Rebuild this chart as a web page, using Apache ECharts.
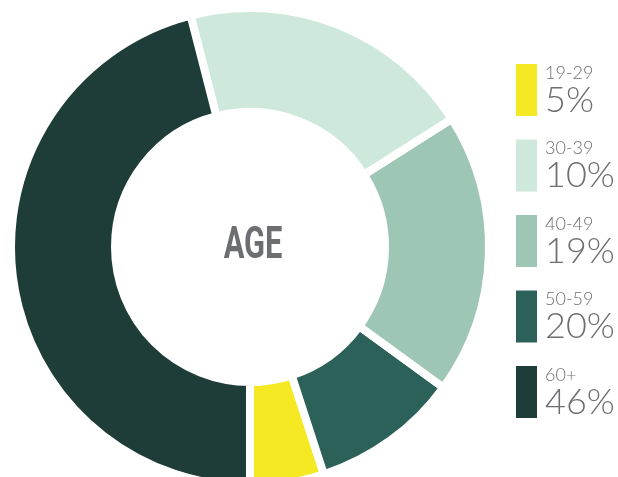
<!DOCTYPE html>
<html>
<head>
<meta charset="utf-8">
<script src="https://cdn.jsdelivr.net/npm/echarts@6/dist/echarts.min.js"></script>
<style>
html,body{margin:0;padding:0;background:#fff;}
#chart{width:618px;height:477px;}
</style>
</head>
<body>
<div id="chart"></div>
<script>
// Data
var categories = ['19-29', '30-39', '40-49', '50-59', '60+'];
// slice sizes as drawn in the donut (percent)
var sliceValues = [5, 20, 19, 10, 46];
// percentages printed in the legend
var legendPercents = ['5%', '10%', '19%', '20%', '46%'];
var colors = ['#f4e923', '#cfe8dc', '#9dc6b5', '#2b6158', '#1f3d38'];
// drawing order counter-clockwise from the bottom of the ring
var drawOrder = [0, 3, 2, 1, 4];
var centerTitle = 'AGE';

var TEXT_GRAY = '#6d6e71';
var chart = echarts.init(document.getElementById('chart'), null, {renderer: 'canvas'});

var pieData = drawOrder.map(function (i) {
  return {name: categories[i], value: sliceValues[i], itemStyle: {color: colors[i]}};
});

var option = {
  backgroundColor: '#ffffff',
  animation: false,
  legend: {
    orient: 'vertical',
    left: 514,
    top: 62,
    padding: 0,
    itemWidth: 23,
    itemHeight: 54,
    itemGap: 19.5,
    icon: 'rect',
    selectedMode: false,
    data: categories.slice(),
    formatter: function (name) {
      var i = categories.indexOf(name);
      return '{a|' + name + '}\n{b|' + legendPercents[i] + '}';
    },
    textStyle: {
      padding: [0, 0, 0, 2],
      rich: {
        a: {fontFamily: 'Lato', fontWeight: 300, fontSize: 18, lineHeight: 20, color: TEXT_GRAY},
        b: {fontFamily: 'Lato', fontWeight: 300, fontSize: 36, lineHeight: 34, color: TEXT_GRAY}
      }
    }
  },
  graphic: [{
    type: 'text',
    x: 253,
    y: 247,
    scaleX: 0.7,
    silent: true,
    style: {
      text: centerTitle,
      textAlign: 'center',
      textVerticalAlign: 'middle',
      fontFamily: 'Roboto',
      fontWeight: 'bold',
      fontSize: 44,
      fill: TEXT_GRAY
    }
  }],
  series: [{
    type: 'pie',
    center: [250, 247],
    radius: [135, 239],
    startAngle: -90,
    clockwise: false,
    avoidLabelOverlap: false,
    label: {show: false},
    labelLine: {show: false},
    emphasis: {disabled: true},
    itemStyle: {borderColor: '#ffffff', borderWidth: 8},
    data: pieData
  }]
};
chart.setOption(option);
</script>
</body>
</html>
